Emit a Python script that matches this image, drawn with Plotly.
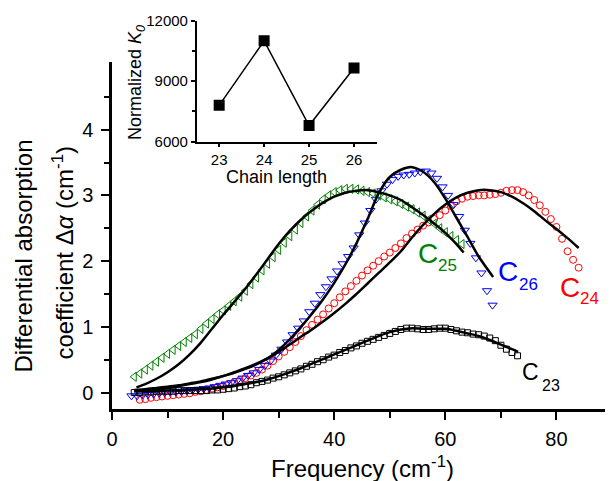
import plotly.graph_objects as go

# ---------------- data ----------------
freq_c25 = [4, 5, 6, 7, 8, 9, 10, 11, 12, 13,
            14, 15, 16, 17, 18, 19, 20, 21, 22, 23,
            24, 25, 26, 27, 28, 29, 30, 31, 32, 33,
            34, 35, 36, 37, 38, 39, 40, 41, 42, 43,
            44, 45, 46, 47, 48, 49, 50, 51, 52, 53,
            54, 55, 56, 57, 58, 59, 60, 61, 62, 63]
abs_c25 = [0.24, 0.29, 0.35, 0.41, 0.47, 0.53, 0.59, 0.65, 0.71, 0.77,
           0.83, 0.89, 0.97, 1.05, 1.12, 1.19, 1.25, 1.32, 1.39, 1.46,
           1.55, 1.65, 1.75, 1.86, 1.96, 2.06, 2.17, 2.28, 2.38, 2.48,
           2.58, 2.68, 2.77, 2.86, 2.94, 3.00, 3.05, 3.08, 3.10, 3.10,
           3.09, 3.07, 3.05, 3.03, 3.00, 2.97, 2.94, 2.91, 2.87, 2.83,
           2.79, 2.74, 2.69, 2.63, 2.57, 2.50, 2.44, 2.38, 2.32, 2.26]

freq_c26 = [3.5, 4.5, 5.5, 6.5, 7.5, 8.5, 9.5, 10.5, 11.5, 12.5,
            13.5, 14.5, 15.5, 16.5, 17.5, 18.5, 19.5, 20.5, 21.5, 22.5,
            23.5, 24.5, 25.5, 26.5, 27.5, 28.5, 29.5, 30.5, 31.5, 32.5,
            33.5, 34.5, 35.5, 36.5, 37.5, 38.5, 39.5, 40.5, 41.5, 42.5,
            43.5, 44.5, 45.5, 46.5, 47.5, 48.5, 49.5, 50.5, 51.5, 52.5,
            53.5, 54.5, 55.5, 56.5, 57.5, 58.5, 59.5, 60.5, 61.5, 62.5,
            63.5, 64.5, 65.5, 66.5, 67.5, 68.5]
abs_c26 = [-0.05, -0.05, -0.04, -0.03, -0.02, -0.01, 0.00, 0.01, 0.01, 0.02,
           0.03, 0.04, 0.05, 0.06, 0.07, 0.09, 0.11, 0.13, 0.15, 0.18,
           0.22, 0.26, 0.30, 0.35, 0.41, 0.48, 0.57, 0.66, 0.77, 0.88,
           0.98, 1.09, 1.23, 1.36, 1.49, 1.61, 1.73, 1.85, 1.96, 2.07,
           2.20, 2.40, 2.58, 2.77, 2.94, 3.07, 3.17, 3.24, 3.29, 3.31,
           3.32, 3.34, 3.36, 3.37, 3.34, 3.26, 3.13, 3.00, 2.86, 2.68,
           2.47, 2.27, 2.05, 1.82, 1.55, 1.33]

freq_c24 = [5, 6, 7, 8, 9, 10, 11, 12, 13, 14,
            15, 16, 17, 18, 19, 20, 21, 22, 23, 24,
            25, 26, 27, 28, 29, 30, 31, 32, 33, 34,
            35, 36, 37, 38, 39, 40, 41, 42, 43, 44,
            45, 46, 47, 48, 49, 50, 51, 52, 53, 54,
            55, 56, 57, 58, 59, 60, 61, 62, 63, 64,
            65, 66, 67, 68, 69, 70, 71, 72, 73, 74,
            75, 76, 77, 78, 79, 80, 81, 82, 83, 84]
abs_c24 = [-0.11, -0.10, -0.08, -0.07, -0.06, -0.05, -0.04, -0.03, -0.02, -0.01,
           0.01, 0.02, 0.04, 0.06, 0.08, 0.10, 0.13, 0.16, 0.19, 0.22,
           0.26, 0.30, 0.35, 0.41, 0.48, 0.55, 0.62, 0.69, 0.77, 0.86,
           0.95, 1.03, 1.11, 1.19, 1.28, 1.36, 1.45, 1.54, 1.62, 1.70,
           1.78, 1.86, 1.93, 2.00, 2.07, 2.13, 2.20, 2.27, 2.35, 2.42,
           2.48, 2.54, 2.59, 2.64, 2.70, 2.77, 2.84, 2.91, 2.95, 2.98,
           2.99, 3.00, 3.00, 3.01, 3.02, 3.04, 3.07, 3.08, 3.08, 3.05,
           3.00, 2.93, 2.85, 2.75, 2.64, 2.52, 2.34, 2.15, 2.02, 1.90]

freq_c23 = [4, 5, 6, 7, 8, 9, 10, 11, 12, 13,
            14, 15, 16, 17, 18, 19, 20, 21, 22, 23,
            24, 25, 26, 27, 28, 29, 30, 31, 32, 33,
            34, 35, 36, 37, 38, 39, 40, 41, 42, 43,
            44, 45, 46, 47, 48, 49, 50, 51, 52, 53,
            54, 55, 56, 57, 58, 59, 60, 61, 62, 63,
            64, 65, 66, 67, 68, 69, 70, 71, 72, 73]
abs_c23 = [0.00, 0.00, 0.01, 0.01, 0.02, 0.02, 0.02, 0.02, 0.03, 0.03,
           0.03, 0.03, 0.03, 0.03, 0.04, 0.04, 0.05, 0.06, 0.07, 0.09,
           0.10, 0.12, 0.15, 0.17, 0.19, 0.22, 0.24, 0.27, 0.30, 0.33,
           0.36, 0.40, 0.43, 0.47, 0.50, 0.54, 0.57, 0.61, 0.64, 0.68,
           0.71, 0.75, 0.78, 0.81, 0.84, 0.87, 0.90, 0.93, 0.96, 0.98,
           0.98, 0.97, 0.96, 0.96, 0.97, 0.98, 0.98, 0.96, 0.94, 0.92,
           0.91, 0.89, 0.88, 0.86, 0.83, 0.79, 0.72, 0.66, 0.61, 0.56]

# fitted curves
fit_x_c25 = [4.4, 6, 8, 10, 12, 14, 16, 18, 20, 22, 24, 26, 28, 30, 32, 34,
             36, 38, 40, 42, 44, 46, 48, 50, 52, 54, 56, 58, 60, 62, 63.3]
fit_y_c25 = [0.08, 0.13, 0.21, 0.31, 0.43, 0.58, 0.76, 0.97, 1.18, 1.38, 1.58,
             1.80, 2.03, 2.26, 2.46, 2.63, 2.77, 2.89, 2.98, 3.04, 3.07, 3.08,
             3.05, 3.00, 2.93, 2.82, 2.70, 2.57, 2.43, 2.26, 2.13]

fit_x_c26 = [4, 6, 8, 10, 12, 14, 16, 18, 20, 22, 24, 26, 28, 30, 32, 34, 36,
             38, 40, 42, 44, 46, 48, 50, 52, 54, 56, 58, 60, 62, 64, 66, 68.6]
fit_y_c26 = [0.02, 0.03, 0.05, 0.07, 0.10, 0.13, 0.16, 0.20, 0.25, 0.30, 0.36,
             0.43, 0.52, 0.65, 0.81, 1.00, 1.20, 1.42, 1.67, 1.95, 2.27, 2.64,
             3.03, 3.28, 3.39, 3.43, 3.36, 3.20, 2.95, 2.66, 2.37, 2.07, 1.76]

fit_x_c24 = [4, 6, 8, 10, 12, 14, 16, 18, 20, 22, 24, 26, 28, 30, 32, 34, 36,
             38, 40, 42, 44, 46, 48, 50, 52, 54, 56, 58, 60, 62, 64, 66, 68,
             70, 72, 74, 76, 78, 80, 82, 84]
fit_y_c24 = [0.04, 0.05, 0.07, 0.09, 0.11, 0.14, 0.17, 0.21, 0.25, 0.31, 0.37,
             0.44, 0.52, 0.62, 0.73, 0.85, 0.96, 1.08, 1.21, 1.35, 1.50, 1.66,
             1.82, 1.98, 2.15, 2.36, 2.55, 2.72, 2.86, 2.97, 3.04, 3.08, 3.08,
             3.05, 2.98, 2.88, 2.76, 2.62, 2.49, 2.35, 2.20]

fit_x_c23 = [4, 6, 8, 10, 12, 14, 16, 18, 20, 22, 24, 26, 28, 30, 32, 34, 36,
             38, 40, 42, 44, 46, 48, 50, 52, 54, 56, 58, 60, 62, 64, 66, 68,
             70, 72, 73.1]
fit_y_c23 = [0.02, 0.02, 0.02, 0.03, 0.03, 0.04, 0.05, 0.06, 0.08, 0.10, 0.13,
             0.16, 0.20, 0.25, 0.31, 0.37, 0.44, 0.51, 0.58, 0.65, 0.72, 0.79,
             0.86, 0.92, 0.96, 0.98, 0.97, 0.97, 0.97, 0.94, 0.90, 0.86, 0.80,
             0.73, 0.66, 0.62]

# inset
chain_length = [23, 24, 25, 26]
k0_norm = [7800, 11000, 6800, 9650]

x_ticks = [0, 20, 40, 60, 80]
y_ticks = [0, 1, 2, 3, 4]
inset_x_ticks = [23, 24, 25, 26]
inset_y_ticks = [6000, 9000, 12000]

# ---------------- figure ----------------
FONT = "Liberation Sans, Arial, Helvetica, sans-serif"
GREEN, BLUE, RED, BLACK = "#008000", "#0000FF", "#FF0000", "#000000"

fig = go.Figure()

fig.add_trace(go.Scatter(x=freq_c24, y=abs_c24, mode="markers",
                         marker=dict(symbol="circle-open", size=7, color=RED,
                                     line=dict(width=1, color=RED))))
fig.add_trace(go.Scatter(x=freq_c26, y=abs_c26, mode="markers",
                         marker=dict(symbol="triangle-down-open", size=8, color=BLUE,
                                     line=dict(width=1, color=BLUE))))
fig.add_trace(go.Scatter(x=freq_c25, y=abs_c25, mode="markers",
                         marker=dict(symbol="triangle-left-open", size=8, color=GREEN,
                                     line=dict(width=1, color=GREEN))))
fig.add_trace(go.Scatter(x=freq_c23, y=abs_c23, mode="markers",
                         marker=dict(symbol="square-open", size=6, color=BLACK,
                                     line=dict(width=1, color=BLACK))))

for fx, fy in [(fit_x_c25, fit_y_c25), (fit_x_c26, fit_y_c26),
               (fit_x_c24, fit_y_c24), (fit_x_c23, fit_y_c23)]:
    fig.add_trace(go.Scatter(x=fx, y=fy, mode="lines",
                             line=dict(color=BLACK, width=2.5, shape="spline", smoothing=0.8)))

# inset trace
fig.add_trace(go.Scatter(x=chain_length, y=k0_norm, mode="lines+markers",
                         xaxis="x2", yaxis="y2",
                         line=dict(color=BLACK, width=1.5),
                         marker=dict(symbol="square", size=11, color=BLACK)))

axis_common = dict(showline=True, linecolor=BLACK, showgrid=False, zeroline=False,
                   ticks="outside", tickcolor=BLACK, mirror=False, automargin=False)

# the page places the figure 8 px in from the top-left corner of the window,
# so the figure is sized 605 x 473 to fill the 613 x 481 view.
fig.update_layout(
    template="none",
    width=605, height=473,
    margin=dict(l=104, r=1, t=2, b=72, autoexpand=False),
    paper_bgcolor="white", plot_bgcolor="rgba(0,0,0,0)",
    showlegend=False,
    font=dict(family=FONT, color=BLACK),
    xaxis=dict(**axis_common, domain=[0, 1], range=[0, 90], anchor="y",
               linewidth=2.5, tickwidth=2, ticklen=8,
               tickvals=x_ticks, ticktext=[str(v) for v in x_ticks],
               tickfont=dict(size=20, family=FONT), ticklabelstandoff=2,
               minor=dict(tickvals=[10, 30, 50, 70, 90], ticks="outside",
                          ticklen=6, tickwidth=2, tickcolor=BLACK)),
    yaxis=dict(**axis_common, domain=[0, 0.8697], range=[-0.25, 5.03], anchor="x",
               linewidth=2.5, tickwidth=2, ticklen=8,
               tickvals=y_ticks, ticktext=[str(v) for v in y_ticks],
               tickfont=dict(size=20, family=FONT), ticklabelstandoff=4,
               minor=dict(tickvals=[0.5, 1.5, 2.5, 3.5, 4.5], ticks="outside",
                          ticklen=5, tickwidth=2, tickcolor=BLACK)),
    xaxis2=dict(**axis_common, domain=[0.1694, 0.529], range=[22.5, 26.5], anchor="y2",
                linewidth=1.5, tickwidth=1.5, ticklen=4,
                tickvals=inset_x_ticks, ticktext=[str(v) for v in inset_x_ticks],
                tickfont=dict(size=15, family=FONT), ticklabelstandoff=0),
    yaxis2=dict(**axis_common, domain=[0.670, 0.9732], range=[6000, 12000], anchor="x2",
                linewidth=1.5, tickwidth=1.5, ticklen=4,
                tickvals=inset_y_ticks, ticktext=[str(v) for v in inset_y_ticks],
                tickfont=dict(size=15, family=FONT), ticklabelstandoff=0,
                minor=dict(tickvals=[7500, 10500], ticks="outside", ticklen=3,
                           tickwidth=1.5, tickcolor=BLACK)),
)

annots = []
# axis titles
annots.append(dict(text="Frequency (cm<sup>-1</sup>)", xref="paper", yref="paper",
                   x=0.5, y=-0.1454, showarrow=False, font=dict(size=24),
                   xanchor="center", yanchor="middle"))
annots.append(dict(text="Differential absorption", xref="paper", yref="paper",
                   x=-0.177, y=0.3835, showarrow=False, font=dict(size=24),
                   textangle=-90, xanchor="center", yanchor="middle"))
annots.append(dict(text="coefficient Δ<i>α</i> (cm<sup>-1</sup>)", xref="paper", yref="paper",
                   x=-0.098, y=0.392, showarrow=False, font=dict(size=24),
                   textangle=-90, xanchor="center", yanchor="middle"))
# inset titles
annots.append(dict(text="Chain length", xref="paper", yref="paper",
                   x=0.328, y=0.581, showarrow=False, font=dict(size=18),
                   xanchor="center", yanchor="middle"))
annots.append(dict(text="Normalized <i>K</i><sub><i>0</i></sub>", xref="paper", yref="paper",
                   x=0.048, y=0.817, showarrow=False, font=dict(size=18),
                   textangle=-90, xanchor="center", yanchor="middle"))

# curve labels (main letter + subscript number)
labels = [
    ("C", "25", GREEN, 56.8, 2.11, 60.4, 1.94, 28, 17),
    ("C", "26", BLUE, 71.2, 1.84, 74.9, 1.65, 28, 17),
    ("C", "24", RED, 82.4, 1.60, 86.0, 1.43, 28, 17),
    ("C", "23", BLACK, 75.3, 0.31, 79.1, 0.10, 23, 16),
]
for main, sub, col, xm, ym, xs, ys, fm, fs in labels:
    annots.append(dict(text=main, xref="x", yref="y", x=xm, y=ym, showarrow=False,
                       font=dict(size=fm, color=col), xanchor="center", yanchor="middle"))
    annots.append(dict(text=sub, xref="x", yref="y", x=xs, y=ys, showarrow=False,
                       font=dict(size=fs, color=col), xanchor="center", yanchor="middle"))

fig.update_layout(annotations=annots)

fig.write_html("out.html")
